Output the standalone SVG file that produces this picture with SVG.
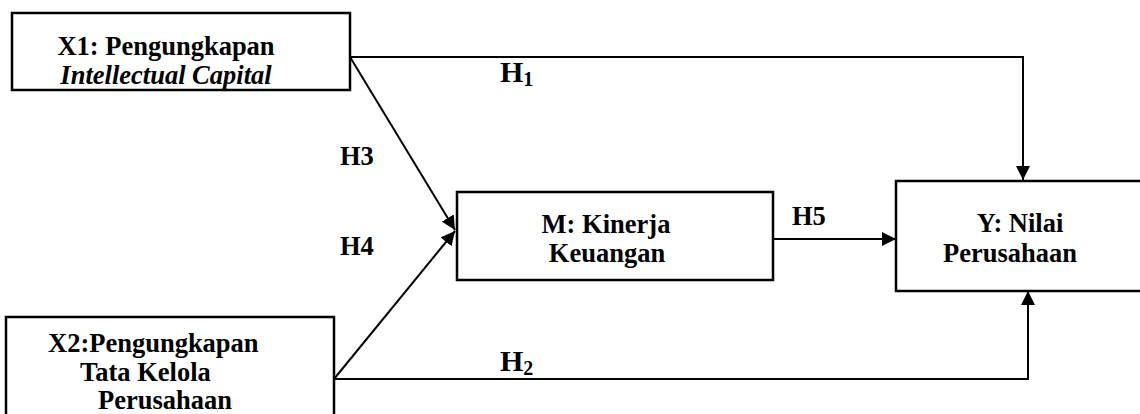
<svg xmlns="http://www.w3.org/2000/svg" width="1140" height="414" viewBox="0 0 1140 414">
<style>
.box{fill:#fff;stroke:#000;stroke-width:2.5}
.t{font-family:"Liberation Serif","Times New Roman",serif;font-weight:bold;font-size:26.5px;fill:#000}
.big{font-size:30px}
.sub{font-size:20px}
.i{font-style:italic}
.ln{fill:none;stroke:#000;stroke-width:2}
</style>
<defs>
<marker id="ah" viewBox="0 0 10 10" refX="10" refY="5" markerWidth="14" markerHeight="14" markerUnits="userSpaceOnUse" orient="auto">
<path d="M0,0 L10,5 L0,10 z" fill="#000"/>
</marker>
<clipPath id="c1"><rect x="12" y="13" width="338" height="77"/></clipPath>
<clipPath id="c2"><rect x="457" y="192" width="316" height="88"/></clipPath>
</defs>
<g id="connectors">
<polyline class="ln" points="350,57 1023,57 1023,180" marker-end="url(#ah)"/>
<line class="ln" x1="350" y1="57" x2="455" y2="230" marker-end="url(#ah)"/>
<line class="ln" x1="334" y1="379" x2="455" y2="231" marker-end="url(#ah)"/>
<line class="ln" x1="773" y1="239" x2="896" y2="239" marker-end="url(#ah)"/>
<polyline class="ln" points="334,379 1028,379 1028,291" marker-end="url(#ah)"/>
<text class="t big" x="500" y="82">H<tspan class="sub" dy="4">1</tspan></text>
<text class="t big" x="500" y="371">H<tspan class="sub" dy="4">2</tspan></text>
<text class="t" x="340" y="165">H3</text>
<text class="t" x="340" y="255">H4</text>
<text class="t" x="792" y="225">H5</text>
</g>
<g id="x1">
<rect class="box" x="12" y="13" width="338" height="77"/>
<g clip-path="url(#c1)">
<text class="t" x="166" y="55" text-anchor="middle">X1: Pengungkapan</text>
<text class="t i" x="166" y="84" text-anchor="middle">Intellectual Capital</text>
</g>
</g>
<g id="x2">
<rect class="box" x="6" y="317" width="328" height="110"/>
<text class="t" x="48" y="352">X2:Pengungkapan</text>
<text class="t" x="80" y="381">Tata Kelola</text>
<text class="t" x="98" y="409">Perusahaan</text>
</g>
<g id="m">
<rect class="box" x="457" y="192" width="316" height="88"/>
<g clip-path="url(#c2)">
<text class="t" x="606" y="233" text-anchor="middle">M: Kinerja</text>
<text class="t" x="607" y="262" text-anchor="middle">Keuangan</text>
</g>
</g>
<g id="y">
<rect class="box" x="896" y="181" width="260" height="110"/>
<text class="t" x="1020" y="232" text-anchor="middle">Y: Nilai</text>
<text class="t" x="1010" y="262" text-anchor="middle">Perusahaan</text>
</g>
</svg>
